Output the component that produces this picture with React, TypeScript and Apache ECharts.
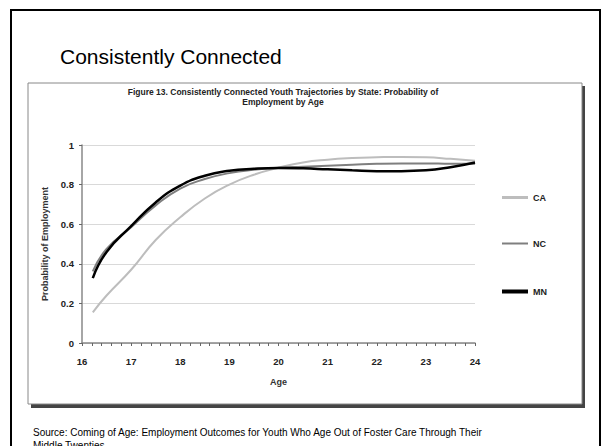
import React, { useEffect, useRef } from "react";
import * as echarts from "echarts";

const ages = [16.22, 16.5, 17, 17.5, 18, 18.5, 19, 19.5, 20, 20.5, 21, 21.5, 22, 22.5, 23, 23.5, 24];
const caValues = [0.155, 0.24, 0.37, 0.52, 0.635, 0.73, 0.8, 0.85, 0.885, 0.912, 0.926, 0.934, 0.938, 0.94, 0.938, 0.93, 0.92];
const ncValues = [0.362, 0.475, 0.585, 0.695, 0.78, 0.828, 0.858, 0.875, 0.885, 0.89, 0.895, 0.9, 0.905, 0.907, 0.907, 0.905, 0.905];
const mnValues = [0.328, 0.46, 0.59, 0.71, 0.795, 0.845, 0.87, 0.88, 0.884, 0.882, 0.877, 0.872, 0.868, 0.868, 0.872, 0.888, 0.912];

const slideTitle = "Consistently Connected";
const figureTitle = "Figure 13. Consistently Connected Youth Trajectories by State: Probability of\nEmployment by Age";
const sourceText = "Source: Coming of Age: Employment Outcomes for Youth Who Age Out of Foster Care Through Their\nMiddle Twenties";

const FONT = "'Liberation Sans', Arial, sans-serif";

export default function App() {
  const ref = useRef<HTMLDivElement>(null);
  useEffect(() => {
    if (!ref.current) return;
    const chart = echarts.init(ref.current, null, { renderer: "svg" });
    const pair = (vals: number[]) => ages.map((a, i) => [a, vals[i]]);
    const legendBase = {
      orient: "vertical",
      left: 502,
      padding: 0,
      itemWidth: 26,
      itemGap: 3,
      icon: "rect",
      textStyle: { fontFamily: FONT, fontSize: 9, fontWeight: "bold", color: "#222" },
    };
    chart.setOption({
      animation: false,
      backgroundColor: "#fff",
      textStyle: { fontFamily: FONT },
      graphic: [
        {
          type: "rect",
          shape: { x: 11, y: 10, width: 589, height: 460 },
          style: { fill: "none", stroke: "#000", lineWidth: 2 },
          z: -10,
        },
        {
          type: "rect",
          shape: { x: 31, y: 86, width: 554, height: 322 },
          style: { fill: "#444", stroke: "none" },
          z: -10,
        },
        {
          type: "rect",
          shape: { x: 28, y: 83, width: 554, height: 321 },
          style: { fill: "#fff", stroke: "#888", lineWidth: 1 },
          z: -9,
        },
        {
          type: "text",
          left: 60,
          top: 46,
          style: { text: slideTitle, fontFamily: FONT, fontSize: 21, fill: "#000" },
        },
        {
          type: "text",
          x: 283,
          y: 87,
          style: {
            text: figureTitle,
            fontFamily: FONT,
            fontSize: 8.5,
            fontWeight: "bold",
            fill: "#222",
            align: "center",
            lineHeight: 10,
          },
        },
        {
          type: "text",
          left: 33,
          top: 426,
          style: { text: sourceText, fontFamily: FONT, fontSize: 10, fill: "#000", lineHeight: 13 },
        },
      ],
      grid: { left: 82, right: 127, top: 145, bottom: 103, containLabel: false },
      xAxis: {
        type: "value",
        min: 16,
        max: 24,
        interval: 1,
        name: "Age",
        nameLocation: "middle",
        nameGap: 34,
        nameTextStyle: { fontFamily: FONT, fontSize: 9, fontWeight: "bold", color: "#333" },
        axisLine: { lineStyle: { color: "#888", width: 1.5 } },
        axisTick: { show: true, length: 3, lineStyle: { color: "#666" } },
        minorTick: { show: true, splitNumber: 5, length: 3, lineStyle: { color: "#666" } },
        axisLabel: { fontFamily: FONT, fontSize: 9.5, fontWeight: "bold", color: "#222", margin: 13 },
        splitLine: { show: false },
      },
      yAxis: {
        type: "value",
        min: 0,
        max: 1,
        interval: 0.2,
        name: "Probability of Employment",
        nameLocation: "middle",
        nameGap: 33,
        nameTextStyle: { fontFamily: FONT, fontSize: 9, fontWeight: "bold", color: "#333" },
        axisLine: { show: true, lineStyle: { color: "#888", width: 1.5 } },
        axisTick: { show: true, length: 3, lineStyle: { color: "#666" } },
        axisLabel: {
          fontFamily: FONT,
          fontSize: 9.5,
          fontWeight: "bold",
          color: "#222",
          margin: 8,
          formatter: (v: number) => String(Math.round(v * 10) / 10),
        },
        splitLine: { show: true, lineStyle: { color: "#d9d9d9", width: 1 } },
      },
      legend: [
        { ...legendBase, top: 193, itemHeight: 3, data: ["CA"] },
        { ...legendBase, top: 239, itemHeight: 2, data: ["NC"] },
        { ...legendBase, top: 287, itemHeight: 4, data: ["MN"] },
      ],
      series: [
        {
          name: "CA",
          type: "line",
          data: pair(caValues),
          smooth: true,
          showSymbol: false,
          symbol: "none",
          color: "#bdbdbd",
          lineStyle: { color: "#bdbdbd", width: 2 },
          z: 2,
        },
        {
          name: "NC",
          type: "line",
          data: pair(ncValues),
          smooth: true,
          showSymbol: false,
          symbol: "none",
          color: "#7f7f7f",
          lineStyle: { color: "#7f7f7f", width: 2 },
          z: 3,
        },
        {
          name: "MN",
          type: "line",
          data: pair(mnValues),
          smooth: true,
          showSymbol: false,
          symbol: "none",
          color: "#000",
          lineStyle: { color: "#000", width: 2.5 },
          z: 4,
        },
      ],
    });
    return () => chart.dispose();
  }, []);
  return (
    <div
      ref={ref}
      style={{ position: "fixed", left: 0, top: 0, width: 602, height: 446 }}
    />
  );
}
